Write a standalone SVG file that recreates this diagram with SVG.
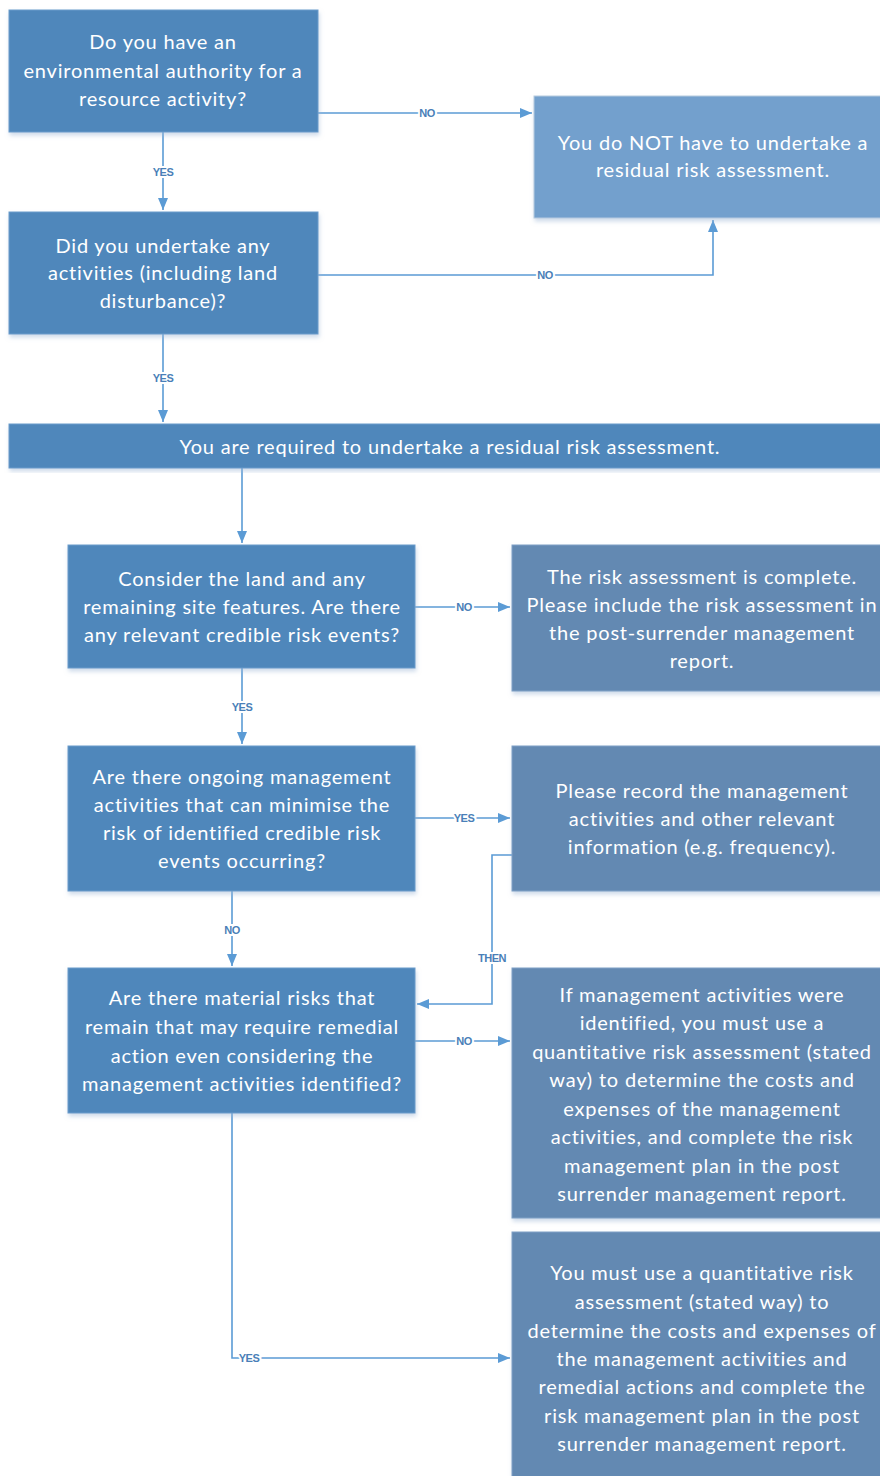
<svg xmlns="http://www.w3.org/2000/svg" width="880" height="1476" viewBox="0 0 880 1476">
<defs>
<marker id="ah" viewBox="0 0 12 10" refX="12" refY="5" markerWidth="12" markerHeight="10" markerUnits="userSpaceOnUse" orient="auto">
<path d="M0,0 L12,5 L0,10 z" fill="#5b9bd5"/>
</marker>
<filter id="sh" x="-5%" y="-5%" width="112%" height="115%">
<feDropShadow dx="1" dy="3" stdDeviation="2" flood-color="#9fb8d6" flood-opacity="0.5"/>
</filter>
<style>
.q{fill:#4f87bb;stroke:#6a9bcb;stroke-width:1;filter:url(#sh)}
.r{fill:#6489b2;stroke:#7fa0c6;stroke-width:1;filter:url(#sh)}
.l{fill:#73a0cd;stroke:#b8cbe0;stroke-width:1;filter:url(#sh)}
.t{fill:#ffffff;font-family:Lato,"Open Sans","Liberation Sans",sans-serif;font-size:20px;letter-spacing:0.8px;text-anchor:middle}
.c{fill:none;stroke:#5b9bd5;stroke-width:1.6}
.lb{fill:#4a7fb8;font-family:"Liberation Sans",Arial,sans-serif;font-size:11px;text-anchor:middle;font-weight:bold;letter-spacing:-0.5px;paint-order:stroke;stroke:#ffffff;stroke-width:4px}
</style>
</defs>
<rect width="880" height="1476" fill="#ffffff"/>

<g id="connectors">
<path class="c" d="M318,113 H532" marker-end="url(#ah)"/>
<path class="c" d="M163,132 V210" marker-end="url(#ah)"/>
<path class="c" d="M318,275 H713 V220" marker-end="url(#ah)"/>
<path class="c" d="M163,334 V422" marker-end="url(#ah)"/>
<path class="c" d="M242,468 V543" marker-end="url(#ah)"/>
<path class="c" d="M415,607 H510" marker-end="url(#ah)"/>
<path class="c" d="M242,668 V744" marker-end="url(#ah)"/>
<path class="c" d="M415,818 H510" marker-end="url(#ah)"/>
<path class="c" d="M232,891 V966" marker-end="url(#ah)"/>
<path class="c" d="M512,855 H492 V1004 H417" marker-end="url(#ah)"/>
<path class="c" d="M415,1041 H510" marker-end="url(#ah)"/>
<path class="c" d="M232,1113 V1358 H510" marker-end="url(#ah)"/>
<text class="lb" x="427" y="117">NO</text>
<text class="lb" x="163" y="176">YES</text>
<text class="lb" x="545" y="279">NO</text>
<text class="lb" x="163" y="382">YES</text>
<text class="lb" x="464" y="611">NO</text>
<text class="lb" x="242" y="711">YES</text>
<text class="lb" x="464" y="822">YES</text>
<text class="lb" x="232" y="934">NO</text>
<text class="lb" x="492" y="962">THEN</text>
<text class="lb" x="464" y="1045">NO</text>
<text class="lb" x="249" y="1362">YES</text>
</g>

<g id="q1">
<rect class="q" x="9" y="10" width="309" height="122"/>
<text class="t" x="163" y="49">Do you have an</text>
<text class="t" x="163" y="78">environmental authority for a</text>
<text class="t" x="163" y="106">resource activity?</text>
</g>

<g id="notRequired">
<rect class="l" x="534" y="96" width="350" height="122"/>
<text class="t" x="713" y="150">You do NOT have to undertake a</text>
<text class="t" x="713" y="177">residual risk assessment.</text>
</g>

<g id="q2">
<rect class="q" x="9" y="212" width="309" height="122"/>
<text class="t" x="163" y="253">Did you undertake any</text>
<text class="t" x="163" y="280">activities (including land</text>
<text class="t" x="163" y="308">disturbance)?</text>
</g>

<g id="required">
<rect class="q" x="9" y="424" width="875" height="44"/>
<text class="t" x="450" y="454">You are required to undertake a residual risk assessment.</text>
</g>

<g id="q3">
<rect class="q" x="68" y="545" width="347" height="123"/>
<text class="t" x="242" y="586">Consider the land and any</text>
<text class="t" x="242" y="614">remaining site features. Are there</text>
<text class="t" x="242" y="642">any relevant credible risk events?</text>
</g>

<g id="complete">
<rect class="r" x="512" y="545" width="372" height="146"/>
<text class="t" x="702" y="584">The risk assessment is complete.</text>
<text class="t" x="702" y="612">Please include the risk assessment in</text>
<text class="t" x="702" y="640">the post-surrender management</text>
<text class="t" x="702" y="668">report.</text>
</g>

<g id="q4">
<rect class="q" x="68" y="746" width="347" height="145"/>
<text class="t" x="242" y="784">Are there ongoing management</text>
<text class="t" x="242" y="812">activities that can minimise the</text>
<text class="t" x="242" y="840">risk of identified credible risk</text>
<text class="t" x="242" y="868">events occurring?</text>
</g>

<g id="record">
<rect class="r" x="512" y="746" width="372" height="145"/>
<text class="t" x="702" y="798">Please record the management</text>
<text class="t" x="702" y="826">activities and other relevant</text>
<text class="t" x="702" y="854">information (e.g. frequency).</text>
</g>

<g id="q5">
<rect class="q" x="68" y="968" width="347" height="145"/>
<text class="t" x="242" y="1005">Are there material risks that</text>
<text class="t" x="242" y="1034">remain that may require remedial</text>
<text class="t" x="242" y="1063">action even considering the</text>
<text class="t" x="242" y="1091">management activities identified?</text>
</g>

<g id="ifManagement">
<rect class="r" x="512" y="968" width="372" height="250"/>
<text class="t" x="702" y="1002">If management activities were</text>
<text class="t" x="702" y="1030">identified, you must use a</text>
<text class="t" x="702" y="1059">quantitative risk assessment (stated</text>
<text class="t" x="702" y="1087">way) to determine the costs and</text>
<text class="t" x="702" y="1116">expenses of the management</text>
<text class="t" x="702" y="1144">activities, and complete the risk</text>
<text class="t" x="702" y="1173">management plan in the post</text>
<text class="t" x="702" y="1201">surrender management report.</text>
</g>

<g id="mustUse">
<rect class="r" x="512" y="1232" width="372" height="250"/>
<text class="t" x="702" y="1280">You must use a quantitative risk</text>
<text class="t" x="702" y="1309">assessment (stated way) to</text>
<text class="t" x="702" y="1338">determine the costs and expenses of</text>
<text class="t" x="702" y="1366">the management activities and</text>
<text class="t" x="702" y="1394">remedial actions and complete the</text>
<text class="t" x="702" y="1423">risk management plan in the post</text>
<text class="t" x="702" y="1451">surrender management report.</text>
</g>
</svg>
